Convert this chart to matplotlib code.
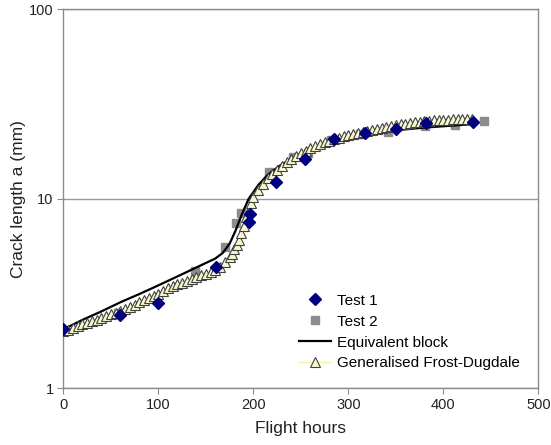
import numpy as np
import matplotlib.pyplot as plt

plt.rcParams['font.family'] = ['Liberation Sans', 'DejaVu Sans']

# Test 1 (diamonds)
t1_hours = [0, 60, 100, 161, 196, 197, 224, 254, 285, 318, 350, 382, 431]
t1_crack = [2.05, 2.45, 2.83, 4.35, 7.6, 8.3, 12.3, 16.2, 20.8, 22.4, 23.3, 25.3, 25.6]

# Test 2 (squares)
t2_hours = [0, 58, 139, 170, 182, 187, 217, 242, 258, 282, 312, 342, 381, 412, 443]
t2_crack = [2.02, 2.5, 4.15, 5.6, 7.5, 8.4, 13.8, 16.6, 17.5, 20.5, 22.0, 22.7, 24.3, 24.6, 25.9]

# Equivalent block prediction
eb_hours = [0, 20, 40, 60, 80, 100, 120, 140, 160, 168, 175, 181, 188, 195, 205,
            215, 228, 240, 255, 270, 288, 305, 320, 340, 360, 380, 405, 430]
eb_crack = [2.05, 2.3, 2.55, 2.85, 3.15, 3.5, 3.9, 4.35, 4.85, 5.2, 5.8, 6.75, 8.3, 10.0, 11.8,
            13.4, 15.0, 16.3, 17.8, 19.2, 20.6, 21.6, 22.3, 22.8, 23.3, 23.8, 24.3, 24.8]

# Generalised Frost-Dugdale prediction
gfd_hours = [0, 5, 10, 15, 20, 25, 30, 35, 40, 45, 50, 55, 60, 65, 70, 75, 80, 85, 90, 95,
             100, 105, 110, 115, 120, 125, 130, 135, 140, 145, 150, 155, 160, 165, 170,
             175, 177.5, 180, 182.5, 185, 187.5, 190, 192.5, 195, 197.5, 200, 205, 210,
             215, 220, 225, 230, 235, 240, 245, 250, 255, 260, 265, 270, 275, 280, 285,
             290, 295, 300, 305, 310, 315, 320, 325, 330, 335, 340, 345, 350, 355, 360,
             365, 370, 375, 380, 385, 390, 395, 400, 405, 410, 415, 420, 425, 430]
gfd_crack = [2.00, 2.04, 2.08, 2.13, 2.18, 2.22, 2.27, 2.31, 2.36, 2.41, 2.46, 2.51, 2.56,
             2.63, 2.70, 2.77, 2.85, 2.93, 3.01, 3.09, 3.17, 3.27, 3.37, 3.47, 3.56, 3.62,
             3.70, 3.79, 3.87, 3.95, 4.04, 4.12, 4.21, 4.40, 4.65, 4.95, 5.15, 5.45, 5.75,
             6.05, 6.6, 7.2, 8.0, 8.8, 9.5, 10.2, 11.1, 12.0, 12.9, 13.6, 14.3, 15.0, 15.7,
             16.3, 16.9, 17.4, 18.0, 18.5, 19.0, 19.5, 19.9, 20.3, 20.7, 21.0, 21.4, 21.7,
             22.0, 22.3, 22.6, 22.8, 23.1, 23.4, 23.7, 24.0, 24.2, 24.5, 24.8, 25.0, 25.2,
             25.4, 25.6, 25.8, 25.9, 26.0, 26.1, 26.2, 26.2, 26.3, 26.4, 26.4, 26.5, 26.5]

fig = plt.figure(figsize=(5.51, 4.45), dpi=100)
ax = fig.add_axes([0.1149, 0.127, 0.862, 0.8517])

ax.plot(t2_hours, t2_crack, 's', color='#8c8c8c', markersize=6, label='Test 2', zorder=3)
ax.plot(eb_hours, eb_crack, '-', color='black', linewidth=1.6, label='Equivalent block', zorder=4)
ax.plot(gfd_hours, gfd_crack, '-^', color='#f2f2a0', linewidth=0.8, markersize=6.5,
        markerfacecolor='#f8f8d0', markeredgecolor='#404040', markeredgewidth=0.8,
        label='Generalised Frost-Dugdale', zorder=5)
ax.plot(t1_hours, t1_crack, 'D', color='#000080', markersize=6.5, label='Test 1', zorder=6)

ax.set_yscale('log')
ax.set_xlim(0, 500)
ax.set_ylim(1, 100)
ax.set_xticks([0, 100, 200, 300, 400, 500])
ax.set_yticks([1, 10, 100])
ax.set_yticklabels(['1', '10', '100'])
ax.minorticks_off()
ax.yaxis.grid(True, color='#999999', linewidth=1)
ax.set_axisbelow(True)

for s in ax.spines.values():
    s.set_color('#8a8a8a')
    s.set_linewidth(1)
ax.tick_params(axis='both', direction='out', length=4, color='#8a8a8a',
               labelsize=10.5, labelcolor='#222222', pad=3)

ax.set_xlabel('Flight hours', fontsize=12.5, color='#222222', labelpad=6)
ax.set_ylabel('Crack length a (mm)', fontsize=12.5, color='#222222', labelpad=2)

handles, labels = ax.get_legend_handles_labels()
order = [3, 0, 1, 2]
ax.legend([handles[i] for i in order], [labels[i] for i in order],
          loc='upper left', bbox_to_anchor=(0.528, 0.357), bbox_transform=fig.transFigure,
          frameon=False, fontsize=11, borderpad=0, labelspacing=0.45,
          handlelength=2.1, handletextpad=0.4, numpoints=1)

fig.savefig('out.png', dpi=100)
